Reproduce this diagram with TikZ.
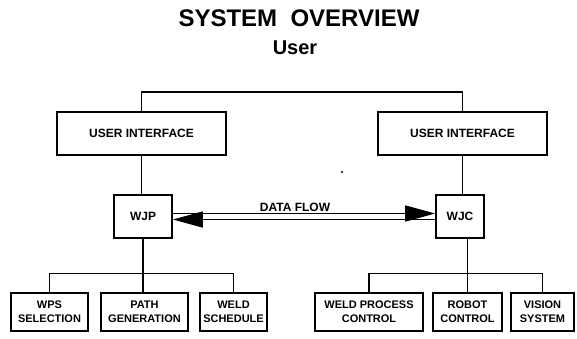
\documentclass[tikz,border=0pt]{standalone}
\usepackage{fontspec}
\setmainfont{Liberation Sans}
\usetikzlibrary{arrows.meta}
\tikzset{
  boxnode/.style={draw, line width=1.6pt, inner sep=0pt, align=center,
    font=\bfseries\fontsize{11}{14}\selectfont},
  uibox/.style={boxnode, minimum width=169pt, minimum height=43pt,
    font=\bfseries\fontsize{12}{14}\selectfont},
  wjbox/.style={boxnode, minimum height=43pt,
    font=\bfseries\fontsize{12}{14}\selectfont},
  leafbox/.style={boxnode, minimum height=38pt},
  wire/.style={line width=1.4pt},
  flow/.style={line width=1.3pt, -{Triangle[length=30pt,width=16pt]}}
}
\begin{document}
\begin{tikzpicture}[x=1pt,y=-1pt]
\useasboundingbox (0,0) rectangle (577,339);

% headings
\node[anchor=base, font=\bfseries\fontsize{24}{28}\selectfont] (title) at (299,27) {SYSTEM\ \ OVERVIEW};
\node[anchor=base, font=\bfseries\fontsize{20}{24}\selectfont] (user) at (295,55) {User};

% user interfaces
\node[uibox] (uiL) at (141.5,133.5) {USER INTERFACE};
\node[uibox] (uiR) at (462.5,133.5) {USER INTERFACE};

% job planner / job controller
\node[wjbox, minimum width=58pt] (wjp) at (143,216.5) {WJP};
\node[wjbox, minimum width=48pt] (wjc) at (460,216.5) {WJC};

% planner modules
\node[leafbox, minimum width=77pt] (wps) at (49.5,312) {WPS\\SELECTION};
\node[leafbox, minimum width=87pt] (path) at (144.5,312) {PATH\\GENERATION};
\node[leafbox, minimum width=67pt] (weld) at (233.5,312) {WELD\\SCHEDULE};

% controller modules
\node[leafbox, minimum width=108pt] (wpc) at (369,312) {WELD PROCESS\\CONTROL};
\node[leafbox, minimum width=69pt] (robot) at (467.5,312) {ROBOT\\CONTROL};
\node[leafbox, minimum width=63pt] (vision) at (542.5,312) {VISION\\SYSTEM};

% user branches to both interfaces
\draw[line width=1.8pt] (uiL.north) -- ++(0,-19) -| (uiR.north);

% interfaces down to WJP / WJC
\draw[wire] (uiL.south) -- (uiL.south |- wjp.north);
\draw[wire] (uiR.south) -- (uiR.south |- wjc.north);

% data flow in both directions
\draw[flow] ([yshift=3pt]wjp.east) -- ([yshift=3pt]wjc.west);
\draw[flow] ([yshift=-3pt]wjc.west) -- ([yshift=-3pt]wjp.east);
\node[anchor=base, font=\bfseries\fontsize{12}{14}\selectfont] (dflow) at (295,211) {DATA FLOW};

% WJP modules
\draw[wire] (wjp.south) -- (wjp.south |- path.north);
\draw[wire] (wps.north) -- ++(0,-19) -| (weld.north);

% WJC modules
\draw[wire] (wjc.south -| robot.north) -- (robot.north);
\draw[wire] (wpc.north) -- ++(0,-19) -| (vision.north);

% small speck
\fill (342,172) circle (1.2pt);
\end{tikzpicture}
\end{document}
